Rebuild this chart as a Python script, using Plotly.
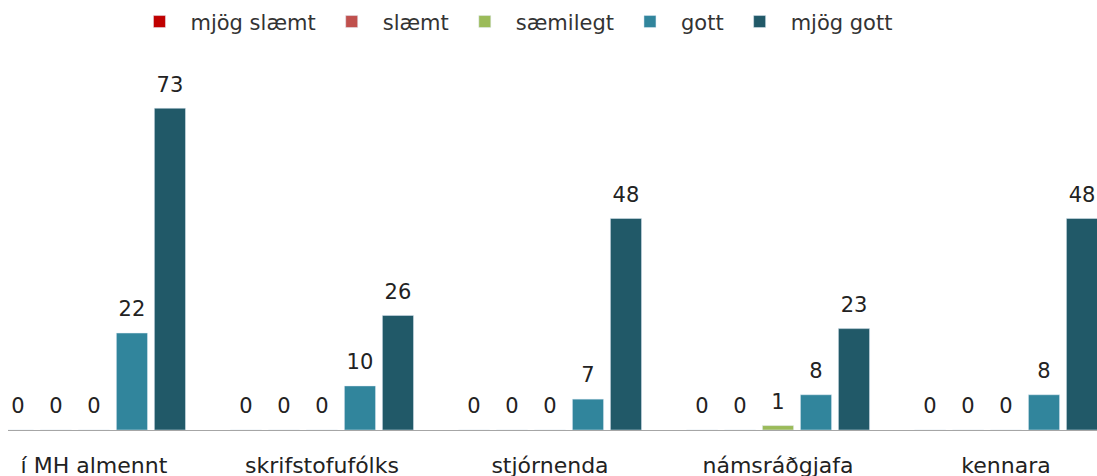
import plotly.graph_objects as go

categories = ["í MH almennt", "skrifstofufólks", "stjórnenda", "námsráðgjafa", "kennara"]
series_names = ["mjög slæmt", "slæmt", "sæmilegt", "gott", "mjög gott"]
mjog_slaemt = [0, 0, 0, 0, 0]
slaemt = [0, 0, 0, 0, 0]
saemilegt = [0, 0, 0, 1, 0]
gott = [22, 10, 7, 8, 8]
mjog_gott = [73, 26, 48, 23, 48]
colors = ["#C00000", "#C0504D", "#9BBB59", "#31859C", "#215968"]

values = [mjog_slaemt, slaemt, saemilegt, gott, mjog_gott]

FONT = "DejaVu Sans"

fig = go.Figure()
for name, vals, col in zip(series_names, values, colors):
    fig.add_trace(go.Bar(
        x=categories, y=vals, name=name, marker_color=col,
        text=[f"<span style='font-size:21px'>{v}</span><br>&nbsp;" for v in vals],
        textposition="outside",
        textfont=dict(size=9, color="#222222", family=FONT), cliponaxis=False,
    ))

fig.update_layout(
    width=1097, height=476,
    margin=dict(l=8, r=0, t=80, b=46, autoexpand=False),
    paper_bgcolor="white", plot_bgcolor="white",
    barmode="group", bargap=0.167, bargroupgap=0.18,
    font=dict(family=FONT, color="#222222"),
    showlegend=True,
    legend=dict(orientation="h", x=0.4637, xanchor="center", y=1.166, yanchor="middle",
                font=dict(size=21, family=FONT, color="#333333"), itemwidth=52,
                traceorder="normal"),
    xaxis=dict(range=[-0.377, 4.399], showline=True, linecolor="#A6A6A6", linewidth=1,
               showgrid=False, tickfont=dict(size=22, color="#222222", family=FONT),
               ticks="", ticklabelstandoff=16, automargin=False),
    yaxis=dict(range=[0, 79.4], visible=False, showgrid=False, zeroline=False,
               automargin=False),
)

fig.write_html("out.html", config={"displayModeBar": False},
               post_script="document.body.style.margin='0';")
